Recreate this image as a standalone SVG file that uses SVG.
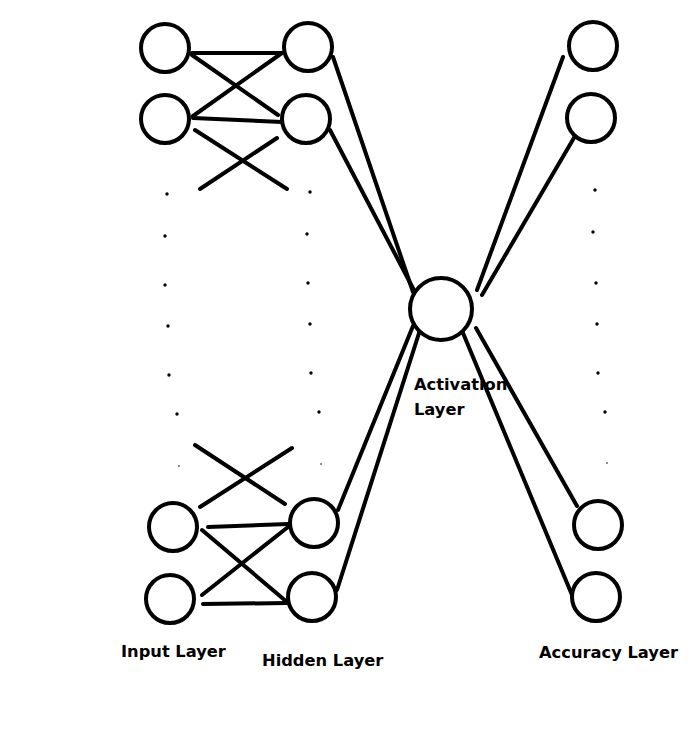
<svg xmlns="http://www.w3.org/2000/svg" width="695" height="741" viewBox="0 0 695 741">
<style>
.n{fill:#fff;stroke:#000;stroke-width:4}
.e{stroke:#000;stroke-width:4;stroke-linecap:round;fill:none}
.d{fill:#000}
.t{font-family:"DejaVu Sans",sans-serif;font-weight:bold;font-size:16.3px;fill:#000}
</style>
<rect width="695" height="741" fill="#fff"/>
<g id="connectors">
<line class="e" x1="192" y1="53" x2="282" y2="53"/>
<line class="e" x1="192" y1="55" x2="278" y2="115"/>
<line class="e" x1="193" y1="116" x2="282" y2="53"/>
<line class="e" x1="193" y1="118" x2="282" y2="122"/>
<line class="e" x1="195" y1="130" x2="287" y2="189"/>
<line class="e" x1="277" y1="138" x2="200" y2="189"/>
<line class="e" x1="195" y1="445" x2="285" y2="504"/>
<line class="e" x1="292" y1="448" x2="200" y2="507"/>
<line class="e" x1="208" y1="527" x2="288" y2="524"/>
<line class="e" x1="202" y1="530" x2="287" y2="602"/>
<line class="e" x1="202" y1="595" x2="288" y2="527"/>
<line class="e" x1="203" y1="604" x2="287" y2="603"/>
<line class="e" x1="333" y1="57" x2="413" y2="292"/>
<line class="e" x1="330" y1="130" x2="416" y2="294"/>
<line class="e" x1="338" y1="510" x2="413" y2="326"/>
<line class="e" x1="337" y1="590" x2="420" y2="330"/>
<line class="e" x1="477" y1="290" x2="563" y2="57"/>
<line class="e" x1="482" y1="295" x2="578" y2="131"/>
<line class="e" x1="476" y1="328" x2="577" y2="506"/>
<line class="e" x1="463" y1="333" x2="572" y2="595"/>
</g>
<g id="dots">
<circle class="d" cx="167" cy="194" r="1.7"/><circle class="d" cx="165" cy="236" r="1.7"/><circle class="d" cx="165" cy="285" r="1.7"/><circle class="d" cx="168" cy="326" r="1.7"/><circle class="d" cx="169" cy="375" r="1.7"/><circle class="d" cx="177" cy="414" r="1.7"/><circle class="d" cx="179" cy="466" r="0.8"/>
<circle class="d" cx="310" cy="192" r="1.7"/><circle class="d" cx="307" cy="234" r="1.7"/><circle class="d" cx="308" cy="283" r="1.7"/><circle class="d" cx="310" cy="324" r="1.7"/><circle class="d" cx="311" cy="373" r="1.7"/><circle class="d" cx="319" cy="412" r="1.7"/><circle class="d" cx="321" cy="464" r="0.8"/>
<circle class="d" cx="595" cy="190" r="1.7"/><circle class="d" cx="593" cy="232" r="1.7"/><circle class="d" cx="596" cy="283" r="1.7"/><circle class="d" cx="597" cy="324" r="1.7"/><circle class="d" cx="598" cy="373" r="1.7"/><circle class="d" cx="605" cy="412" r="1.7"/><circle class="d" cx="607" cy="463" r="0.8"/>
</g>
<g id="input1"><circle class="n" cx="165" cy="48" r="24"/></g>
<g id="input2"><circle class="n" cx="165" cy="119" r="24"/></g>
<g id="input3"><circle class="n" cx="173" cy="527" r="24"/></g>
<g id="input4"><circle class="n" cx="170" cy="599" r="24"/></g>
<g id="hidden1"><circle class="n" cx="308" cy="47" r="24"/></g>
<g id="hidden2"><circle class="n" cx="306" cy="119" r="24"/></g>
<g id="hidden3"><circle class="n" cx="314" cy="523" r="24"/></g>
<g id="hidden4"><circle class="n" cx="312" cy="597" r="24"/></g>
<g id="activation"><circle class="n" cx="441" cy="309" r="31"/></g>
<g id="acc1"><circle class="n" cx="593" cy="46" r="24"/></g>
<g id="acc2"><circle class="n" cx="591" cy="118" r="24"/></g>
<g id="acc3"><circle class="n" cx="598" cy="525" r="24"/></g>
<g id="acc4"><circle class="n" cx="596" cy="597" r="24"/></g>
<g id="labels">
<text class="t" x="121" y="657">Input Layer</text>
<text class="t" x="262" y="666">Hidden Layer</text>
<text class="t" x="414" y="390">Activation</text>
<text class="t" x="414" y="415">Layer</text>
<text class="t" x="539" y="658">Accuracy Layer</text>
</g>
</svg>
